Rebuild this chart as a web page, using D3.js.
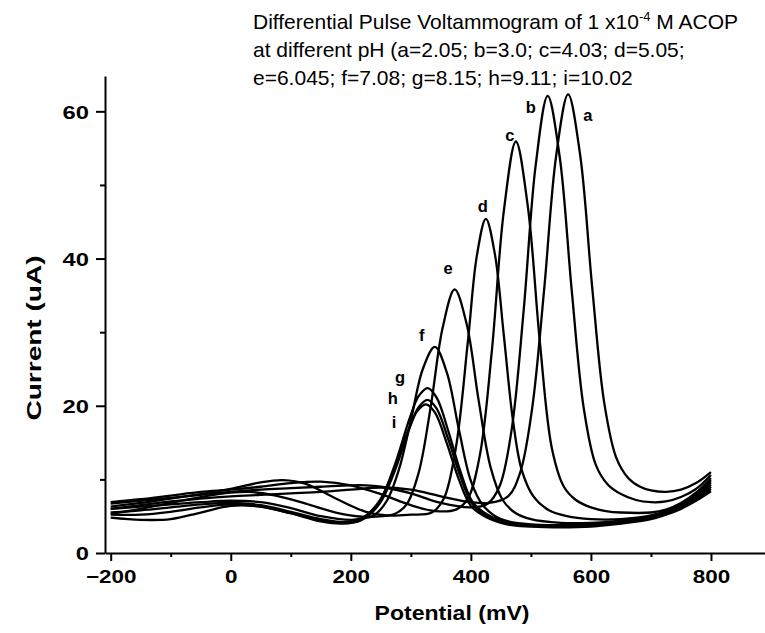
<!DOCTYPE html>
<html><head><meta charset="utf-8">
<script src="https://cdn.jsdelivr.net/npm/d3@7/dist/d3.min.js"></script>
<style>body{margin:0;background:#fff}</style>
</head><body>
<svg id="c" width="765" height="633"></svg>
<script>
// ---- data (Potential mV, Current uA) ----
const curveA = [[-200,6.0],[-150,6.5],[-100,7.0],[-50,7.4],[0,7.7],[50,7.9],[100,8.1],[150,8.3],[200,8.6],[250,8.9],[300,8.6],[350,7.7],[400,6.9],[430,6.8],[462,7.7],[482,10.9],[502,19.6],[522,35.7],[542,53.9],[562,62.3],[582,54.1],[602,36.2],[622,20.5],[642,13.0],[662,10.2],[682,9.0],[700,8.5],[725,8.3],[750,8.6],[775,9.5],[800,11.0]];
const curveB = [[-200,6.7],[-150,7.1],[-100,7.5],[-50,7.9],[0,8.3],[50,8.6],[100,8.8],[150,9.0],[200,9.2],[225,9.2],[250,9.0],[300,8.1],[350,6.8],[400,6.2],[428,6.7],[448,9.1],[468,16.8],[488,33.0],[508,52.7],[528,62.1],[548,53.8],[568,35.7],[588,19.7],[608,12.0],[628,9.3],[650,8.0],[675,7.2],[700,6.9],[725,7.0],[750,7.6],[775,8.7],[800,10.6]];
const curveC = [[-200,6.9],[-150,7.3],[-100,7.8],[-50,8.3],[0,8.6],[50,9.0],[100,9.5],[150,9.7],[200,9.2],[250,8.0],[300,6.5],[340,5.7],[375,5.9],[395,7.4],[415,13.3],[435,27.5],[455,46.5],[475,55.9],[495,47.0],[515,28.6],[535,14.2],[555,9.0],[575,7.2],[600,6.2],[625,5.7],[650,5.5],[700,5.5],[725,5.9],[750,6.8],[775,8.2],[800,10.2]];
const curveD = [[-200,6.3],[-150,6.8],[-100,7.4],[-50,8.0],[0,8.7],[50,9.6],[87,9.9],[125,9.4],[175,7.4],[225,5.6],[260,5.1],[300,5.2],[335,5.5],[355,7.4],[375,14.3],[395,28.7],[410,40.4],[425,45.4],[440,40.6],[455,29.5],[470,18.1],[485,11.2],[505,7.6],[530,5.8],[560,5.0],[600,4.6],[650,4.6],[700,5.1],[725,5.7],[750,6.7],[775,8.0],[800,9.9]];
const curveE = [[-200,5.3],[-150,6.0],[-100,6.8],[-50,7.6],[0,8.2],[30,8.3],[75,7.8],[125,6.7],[175,5.5],[225,4.9],[253,5.0],[273,5.3],[293,6.6],[313,10.9],[333,19.8],[353,30.6],[373,35.8],[393,31.1],[413,20.7],[433,11.6],[453,7.2],[475,5.4],[500,4.6],[550,4.1],[600,4.1],[650,4.4],[700,5.0],[725,5.6],[750,6.6],[775,7.9],[800,9.6]];
const curveF = [[-200,6.0],[-150,6.3],[-100,6.6],[-50,6.9],[0,7.1],[50,6.9],[100,6.1],[150,5.0],[200,4.5],[220,4.7],[240,5.2],[260,7.1],[280,11.3],[300,18.0],[320,25.0],[340,28.0],[360,24.5],[380,16.8],[400,9.8],[420,6.5],[450,4.6],[500,3.9],[550,3.8],[600,3.9],[650,4.3],[700,4.9],[725,5.5],[750,6.5],[775,7.7],[800,9.3]];
const curveG = [[-200,5.5],[-150,5.8],[-100,6.2],[-50,6.6],[0,6.8],[50,6.5],[100,5.6],[150,4.6],[188,4.2],[218,4.7],[248,7.1],[273,11.9],[298,18.3],[313,21.3],[328,22.4],[343,21.1],[363,16.4],[383,11.0],[403,6.9],[428,5.2],[460,4.2],[500,3.8],[550,3.7],[600,3.8],[650,4.2],[700,4.8],[725,5.4],[750,6.3],[775,7.5],[800,9.0]];
const curveH = [[-200,5.2],[-150,5.2],[-100,5.6],[-50,6.2],[0,6.6],[50,6.3],[100,5.4],[150,4.4],[188,4.1],[218,4.5],[248,6.7],[273,11.1],[298,17.0],[313,19.8],[328,20.8],[343,19.6],[363,15.3],[383,10.3],[403,6.6],[428,5.0],[460,4.0],[500,3.7],[550,3.6],[600,3.7],[650,4.1],[700,4.7],[725,5.3],[750,6.2],[775,7.3],[800,8.7]];
const curveI = [[-200,4.8],[-150,4.5],[-100,4.6],[-50,5.5],[0,6.4],[50,6.3],[100,5.4],[150,4.3],[185,4.0],[215,4.4],[245,6.6],[270,10.8],[295,16.5],[310,19.2],[325,20.2],[340,19.1],[360,14.9],[380,10.0],[400,6.4],[425,4.9],[460,3.9],[500,3.6],[550,3.5],[600,3.6],[650,4.0],[700,4.6],[725,5.2],[750,6.0],[775,7.1],[800,8.4]];
const seriesNames = ["a","b","c","d","e","f","g","h","i"];
const seriesData = [curveA,curveB,curveC,curveD,curveE,curveF,curveG,curveH,curveI];
// curve letter anchors in data units (mV, uA)
const labelX = [595,500,465,420,362,318,282,270,272];
const labelY = [59.5,60.6,56.8,47.2,38.7,29.6,23.9,21.0,17.8];
const xMajorTicks = [-200,0,200,400,600,800];
const xMinorTicks = [-100,100,300,500,700];
const yMajorTicks = [0,20,40,60];
const yMinorTicks = [10,30,50];
const titleLines = ["Differential Pulse Voltammogram of 1 x10", "at different pH (a=2.05; b=3.0; c=4.03; d=5.05;", "e=6.045; f=7.08; g=8.15; h=9.11; i=10.02"];
const xTitle = "Potential (mV)";
const yTitle = "Current (uA)";

// ---- drawing ----
const svg = d3.select("#c");
const FONT = "'Liberation Sans', Arial, Helvetica, sans-serif";
const x = d3.scaleLinear().domain([-209.5, 890]).range([105, 765]);
const y = d3.scaleLinear().domain([0, 64.8]).range([553, 76]);

function styleAxis(g){
  g.select(".domain").attr("stroke","#000").attr("stroke-width",2);
  g.selectAll(".tick line").attr("stroke","#000").attr("stroke-width",2);
  g.selectAll(".tick text").attr("font-family",FONT).attr("font-weight","bold").attr("font-size",19).attr("fill","#000");
}
const gx = svg.append("g").attr("transform","translate(0,553)")
  .call(d3.axisBottom(x).tickValues(xMajorTicks).tickSize(8).tickSizeOuter(0).tickPadding(9));
styleAxis(gx);
gx.selectAll(".tick text").attr("transform","scale(1.18,1)");
const gxm = svg.append("g").attr("transform","translate(0,553)")
  .call(d3.axisBottom(x).tickValues(xMinorTicks).tickSize(4).tickSizeOuter(0).tickFormat(""));
styleAxis(gxm); gxm.select(".domain").remove();

const gy = svg.append("g").attr("transform","translate(105,0)")
  .call(d3.axisLeft(y).tickValues(yMajorTicks).tickSize(9).tickSizeOuter(0).tickPadding(7));
styleAxis(gy);
gy.selectAll(".tick text").attr("x",0).attr("dy","0.36em").attr("transform","translate(-16,0) scale(1.25,1)");
const gym = svg.append("g").attr("transform","translate(105,0)")
  .call(d3.axisLeft(y).tickValues(yMinorTicks).tickSize(5).tickSizeOuter(0).tickFormat(""));
styleAxis(gym); gym.select(".domain").remove();

const line = d3.line().x(d=>x(d[0])).y(d=>y(d[1])).curve(d3.curveCatmullRom.alpha(0.5));
svg.append("g").selectAll("path").data(seriesData).join("path")
  .attr("d", line).attr("fill","none").attr("stroke","#000").attr("stroke-width",2.3).attr("stroke-linejoin","round");

svg.append("g").selectAll("text").data(seriesNames).join("text")
  .attr("x",(d,i)=>x(labelX[i])).attr("y",(d,i)=>y(labelY[i]))
  .attr("text-anchor","middle").attr("dominant-baseline","central")
  .attr("font-family",FONT).attr("font-weight","bold").attr("font-size",16.5).text(d=>d);

// axis titles
svg.append("text").attr("x",452).attr("y",620).attr("text-anchor","middle")
  .attr("textLength",155).attr("lengthAdjust","spacingAndGlyphs")
  .attr("font-family",FONT).attr("font-weight","bold").attr("font-size",21).text(xTitle);
svg.append("text").attr("transform","translate(41,338) rotate(-90)").attr("text-anchor","middle")
  .attr("textLength",165).attr("lengthAdjust","spacingAndGlyphs")
  .attr("font-family",FONT).attr("font-weight","bold").attr("font-size",21).text(yTitle);

// title
const tg = svg.append("g").attr("font-family",FONT).attr("font-size",21).attr("fill","#000");
const t1 = tg.append("text").attr("x",253).attr("y",29);
t1.append("tspan").text(titleLines[0]);
t1.append("tspan").attr("font-size",13).attr("dy",-8).text("-4");
t1.append("tspan").attr("dy",8).text(" M ACOP");
tg.append("text").attr("x",253).attr("y",57).text(titleLines[1]);
tg.append("text").attr("x",253).attr("y",85).text(titleLines[2]);
</script>
</body></html>
